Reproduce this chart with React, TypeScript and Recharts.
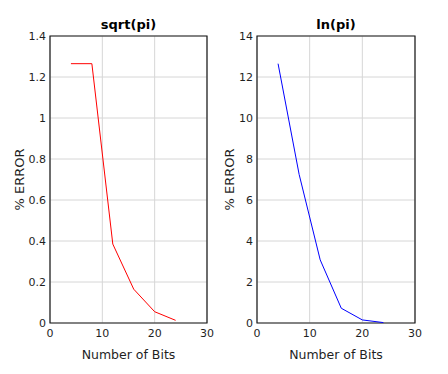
import React from 'react';
import { LineChart, Line, XAxis, YAxis, CartesianGrid, ReferenceArea } from 'recharts';

const bits = [4, 8, 12, 16, 20, 24];
const sqrtPiError = [1.265, 1.265, 0.385, 0.165, 0.055, 0.013];
const lnPiError = [12.65, 7.25, 3.08, 0.72, 0.15, 0.02];
const xTicks = [0, 10, 20, 30];
const sqrtTicks = [0, 0.2, 0.4, 0.6, 0.8, 1, 1.2, 1.4];
const lnTicks = [0, 2, 4, 6, 8, 10, 12, 14];

const sqrtData = bits.map((b, i) => ({ bits: b, err: sqrtPiError[i] }));
const lnData = bits.map((b, i) => ({ bits: b, err: lnPiError[i] }));

const FONT = 'DejaVu Sans';
const TEXT = '#1f1f1f';

function Panel({ data, title, yTicks, yMax, color, width, yWidth, rightMargin, labelOffset }: any) {
  const tickStyle = { fontSize: 11, fill: TEXT, fontFamily: FONT };
  const hidden = { fontSize: 11, fill: 'none' };
  return (
    <div style={{ position: 'relative', width, height: 374 }}>
      <LineChart
        width={width}
        height={374}
        data={data}
        margin={{ top: 36, right: rightMargin, bottom: 0, left: 0 }}
      >
        <CartesianGrid stroke="#d6d6d6" strokeWidth={1} horizontalValues={yTicks} verticalValues={xTicks} />
        <XAxis
          dataKey="bits"
          type="number"
          domain={[0, 30]}
          ticks={xTicks}
          tick={tickStyle}
          tickLine={false}
          axisLine={false}
          height={51}
          tickSize={4}
          tickMargin={2}
          label={{ value: 'Number of Bits', position: 'insideBottom', offset: 15, style: { fontSize: 12.5, fill: TEXT, fontFamily: FONT } }}
        />
        <XAxis
          xAxisId="t"
          orientation="top"
          dataKey="bits"
          type="number"
          domain={[0, 30]}
          ticks={xTicks}
          tick={hidden}
          mirror
          tickSize={4}
          height={0}
          axisLine={false}
          tickLine={{ stroke: '#000' }}
        />
        <XAxis
          xAxisId="b"
          orientation="bottom"
          dataKey="bits"
          type="number"
          domain={[0, 30]}
          ticks={xTicks}
          tick={hidden}
          mirror
          tickSize={4}
          height={0}
          axisLine={false}
          tickLine={{ stroke: '#000' }}
        />
        <YAxis
          type="number"
          domain={[0, yMax]}
          ticks={yTicks}
          tick={{ ...tickStyle, textAnchor: 'end' }}
          tickLine={false}
          axisLine={false}
          width={yWidth}
          tickSize={2}
          tickMargin={2}
          interval={0}
          label={{ value: '% ERROR', angle: -90, position: 'insideLeft', offset: labelOffset, style: { fontSize: 13, fill: TEXT, fontFamily: FONT, textAnchor: 'middle' } }}
        />
        <YAxis
          yAxisId="r"
          orientation="right"
          type="number"
          domain={[0, yMax]}
          ticks={yTicks}
          tick={hidden}
          mirror
          tickSize={4}
          width={0}
          axisLine={false}
          tickLine={{ stroke: '#000' }}
          interval={0}
        />
        <YAxis
          yAxisId="l"
          orientation="left"
          type="number"
          domain={[0, yMax]}
          ticks={yTicks}
          tick={hidden}
          mirror
          tickSize={4}
          width={0}
          axisLine={false}
          tickLine={{ stroke: '#000' }}
          interval={0}
        />
        <ReferenceArea x1={0} x2={30} y1={0} y2={yMax} fill="none" stroke="#1a1a1a" strokeWidth={1.2} ifOverflow="visible" />
        <Line type="linear" dataKey="err" stroke={color} strokeWidth={1} dot={false} isAnimationActive={false} />
      </LineChart>
      <div
        style={{
          position: 'absolute',
          top: 18,
          left: yWidth,
          width: width - yWidth - rightMargin,
          textAlign: 'center',
          fontFamily: FONT,
          fontWeight: 'bold',
          fontSize: 13,
          color: '#000',
          lineHeight: '14px',
        }}
      >
        {title}
      </div>
    </div>
  );
}

export default function App() {
  return (
    <div style={{ position: 'absolute', left: 0, top: 0, width: 448, height: 374, display: 'flex', background: '#fff' }}>
      <Panel data={sqrtData} title="sqrt(pi)" yTicks={sqrtTicks} yMax={1.4} color="#ff0000" width={214} yWidth={50} rightMargin={7} labelOffset={19} />
      <Panel data={lnData} title="ln(pi)" yTicks={lnTicks} yMax={14} color="#0000ff" width={234} yWidth={43} rightMargin={33} labelOffset={15} />
    </div>
  );
}
